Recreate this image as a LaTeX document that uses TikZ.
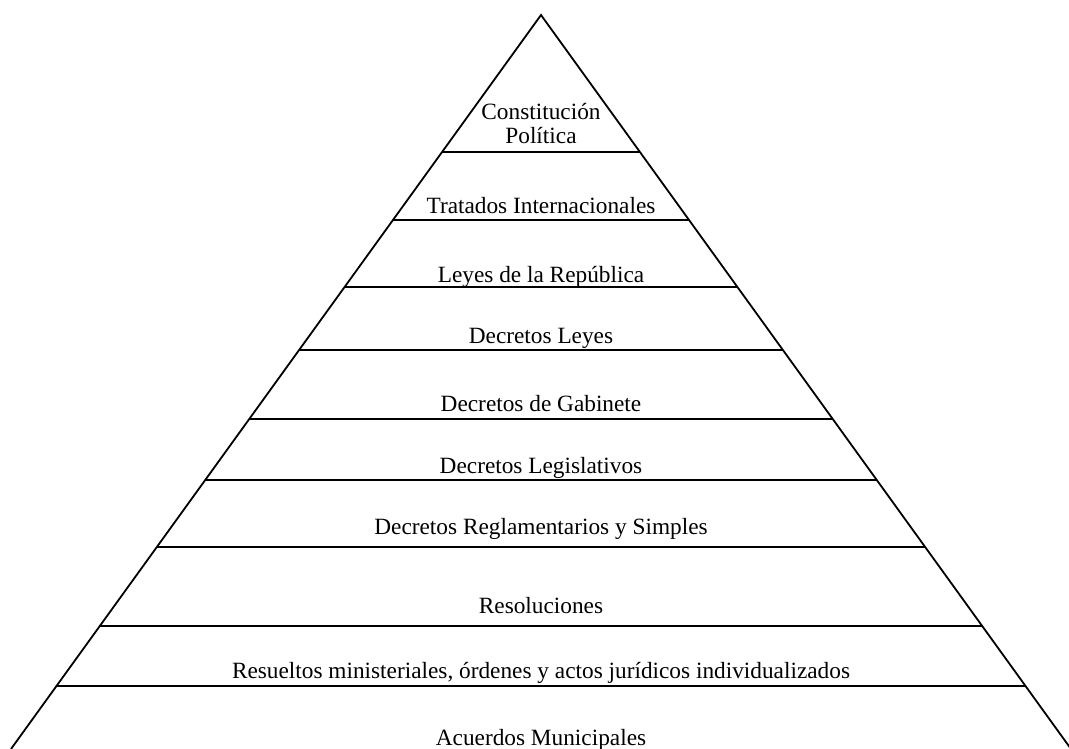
\documentclass[tikz,border=0pt]{standalone}
\usepackage{fontspec}
\setmainfont{Liberation Serif}
\usetikzlibrary{calc}

\begin{document}
\begin{tikzpicture}[x=1pt,y=-1pt,
      tier/.style={
         font=\fontsize{23.3}{27}\selectfont,
         anchor=base,
         inner sep=0pt},
      edge/.style={line width=1.8pt, line join=miter}
      ]
      \useasboundingbox (0,0) rectangle (1069,749);
      \coordinate (apex) at (541,15);
      \coordinate (bl) at (11,749);
      \coordinate (br) at (1071,749);
      \draw[edge] (bl) -- (apex) -- (br);

    \foreach \y in {% level lines
      152,220,287,350,419,480,547,626,686}
       \draw [edge] ($(apex)!{(\y-15)/734}!(bl)$) -- ($(apex)!{(\y-15)/734}!(br)$);

      \node[tier] (cp1) at (541,120) {Constitución};
      \node[tier] (cp2) at (541,144) {Política};
      \node[tier] (ti) at (541,214) {Tratados Internacionales};
      \node[tier] (lr) at (541,282) {Leyes de la República};
      \node[tier] (dl) at (541,343) {Decretos Leyes};
      \node[tier] (dg) at (541,411) {Decretos de Gabinete};
      \node[tier] (dleg) at (541,473) {Decretos Legislativos};
      \node[tier] (drs) at (541,534) {Decretos Reglamentarios y Simples};
      \node[tier] (res) at (541,613) {Resoluciones};
      \node[tier] (rm) at (541,678) {Resueltos ministeriales, órdenes y actos jurídicos individualizados};
      \node[tier] (am) at (541,745) {Acuerdos Municipales};
    \end{tikzpicture}
\end{document}
